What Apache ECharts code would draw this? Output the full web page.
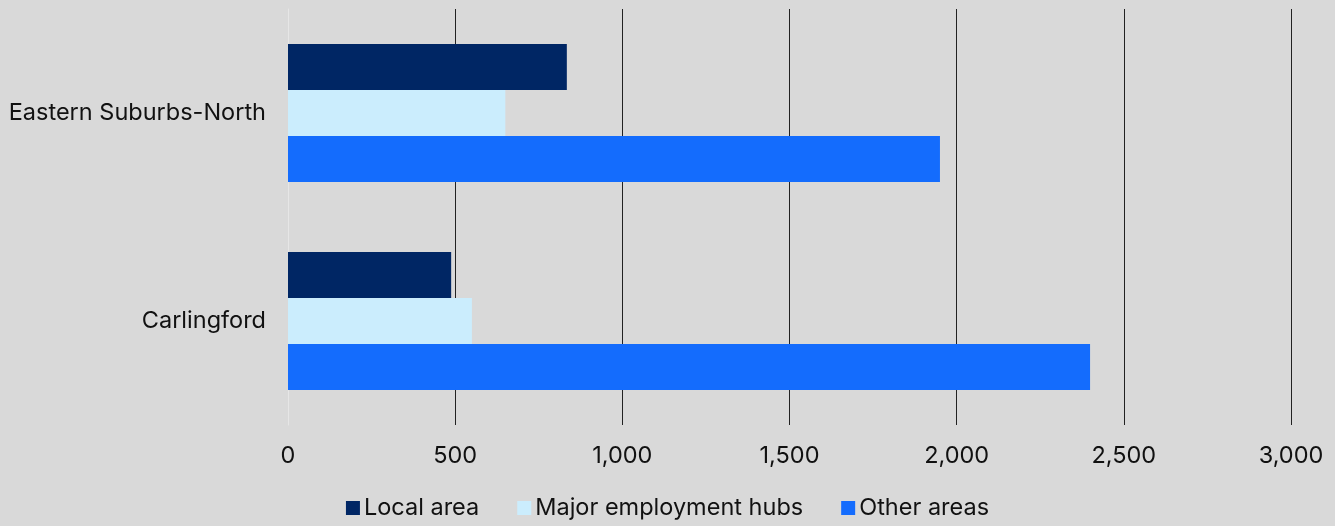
<!DOCTYPE html>
<html>
<head>
<meta charset="utf-8">
<script src="https://cdn.jsdelivr.net/npm/echarts@6/dist/echarts.min.js"></script>
<style>
html,body{margin:0;padding:0;background:#d9d9d9;}
#main{width:1335px;height:526px;}
</style>
</head>
<body>
<div id="main"></div>
<script>
var categories = ['Carlingford', 'Eastern Suburbs-North'];
var localArea = [488, 834];
var majorHubs = [550, 650];
var otherAreas = [2399, 1950];
var xTicks = [0, 500, 1000, 1500, 2000, 2500, 3000];

var font = 'Inter';
var myChart = echarts.init(document.getElementById('main'));
var option = {
	backgroundColor: '#d9d9d9',
	textStyle: {fontFamily: font},
	grid: {left: 288, right: 44, top: 9, bottom: 101, containLabel: false},
	legend: {
		bottom: 1,
		left: 'center',
		itemWidth: 14,
		itemHeight: 14,
		itemGap: 38,
		icon: 'rect',
		textStyle: {fontFamily: font, fontSize: 23.5, color: '#111', padding: [0, 0, 0, -1]},
		data: ['Local area', 'Major employment hubs', 'Other areas']
	},
	xAxis: {
		type: 'value',
		min: xTicks[0],
		max: xTicks[xTicks.length - 1],
		interval: 500,
		axisLine: {show: false},
		axisTick: {show: false},
		splitLine: {lineStyle: {color: '#222', width: 1}},
		axisLabel: {
			color: '#111', fontSize: 23.5, fontFamily: font, margin: 19,
			formatter: function (v) { return v.toLocaleString('en-US'); }
		}
	},
	yAxis: {
		type: 'category',
		data: categories,
		axisLine: {show: true, lineStyle: {color: '#e6e6e6', width: 1}},
		axisTick: {show: false},
		axisLabel: {color: '#111', fontSize: 23.5, fontFamily: font, margin: 22}
	},
	series: [
		{name: 'Local area', type: 'bar', data: localArea, barGap: '0%', barCategoryGap: '33.6%',
			itemStyle: {color: '#002664'}},
		{name: 'Major employment hubs', type: 'bar', data: majorHubs, barGap: '0%', barCategoryGap: '33.6%',
			itemStyle: {color: '#cbedfd'}},
		{name: 'Other areas', type: 'bar', data: otherAreas, barGap: '0%', barCategoryGap: '33.6%',
			itemStyle: {color: '#146cfd'}}
	]
};
myChart.setOption(option);
</script>
</body>
</html>
